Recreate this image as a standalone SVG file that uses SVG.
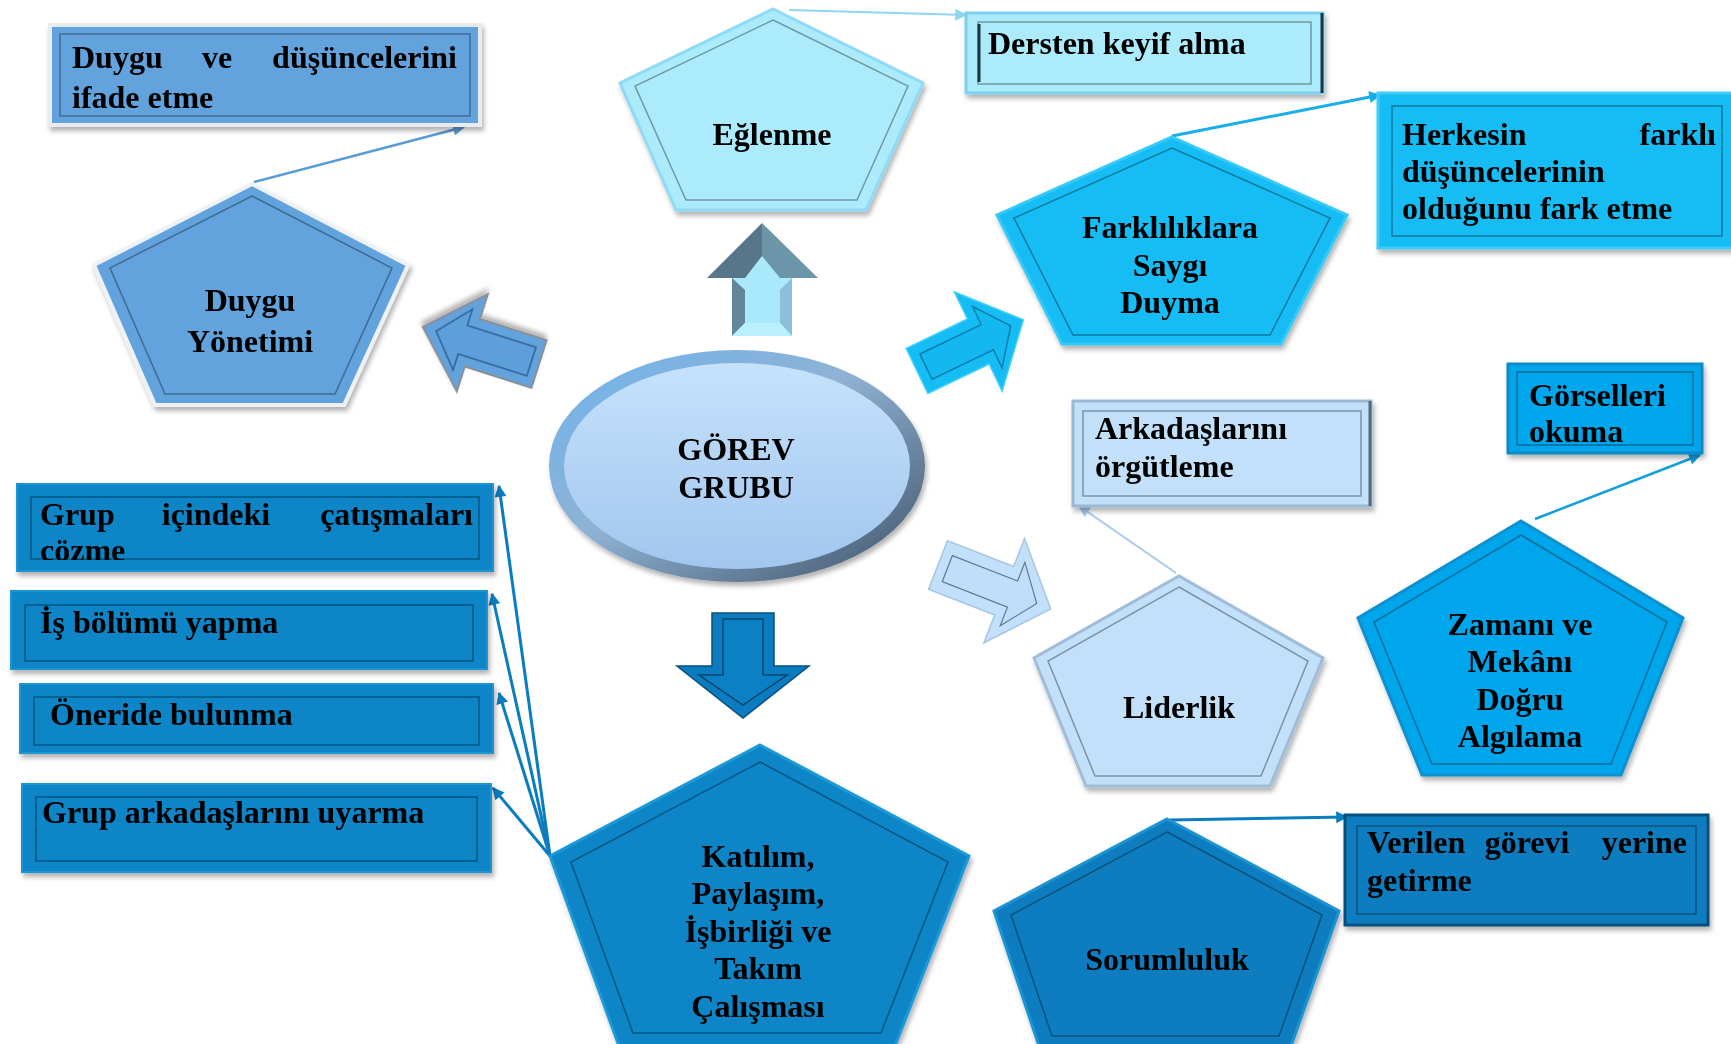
<svg xmlns="http://www.w3.org/2000/svg" width="1731" height="1044" viewBox="0 0 1731 1044">
<style>
.t{font-family:"Liberation Serif","Times New Roman",serif;font-weight:bold;font-size:32px;fill:#000}
.c{text-anchor:middle}
.e{text-anchor:end}
.in{fill:none;stroke:#000;stroke-opacity:.35;stroke-width:1.5}
.hl{fill:none;stroke:#fff;stroke-opacity:.35;stroke-width:1.5}
.cn{fill:none}
</style>
<defs>
<filter id="sh" x="-10%" y="-10%" width="125%" height="130%"><feDropShadow dx="2" dy="4" stdDeviation="2.5" flood-color="#000" flood-opacity="0.3"/></filter>
<linearGradient id="rim" x1="0" y1="0" x2="1" y2="1"><stop offset="0" stop-color="#6db4ee"/><stop offset="0.45" stop-color="#8fb2d4"/><stop offset="1" stop-color="#3f5166"/></linearGradient>
<linearGradient id="ell" x1="0" y1="0" x2="0" y2="1"><stop offset="0" stop-color="#c6e2fb"/><stop offset="1" stop-color="#a2c6ef"/></linearGradient>
<clipPath id="clipG"><rect x="17" y="484" width="476" height="76"/></clipPath>
<marker id="mDuygu" viewBox="0 0 10 10" refX="9" refY="5" markerWidth="16" markerHeight="12" markerUnits="userSpaceOnUse" orient="auto"><path d="M0,0 L10,5 L0,10 Z" fill="#5b9bd5"/></marker>
<marker id="mEg" viewBox="0 0 10 10" refX="9" refY="5" markerWidth="16" markerHeight="12" markerUnits="userSpaceOnUse" orient="auto"><path d="M0,0 L10,5 L0,10 Z" fill="#8fd6f3"/></marker>
<marker id="mFark" viewBox="0 0 10 10" refX="9" refY="5" markerWidth="16" markerHeight="12" markerUnits="userSpaceOnUse" orient="auto"><path d="M0,0 L10,5 L0,10 Z" fill="#18aeeb"/></marker>
<marker id="mLid" viewBox="0 0 10 10" refX="9" refY="5" markerWidth="16" markerHeight="12" markerUnits="userSpaceOnUse" orient="auto"><path d="M0,0 L10,5 L0,10 Z" fill="#a6cbee"/></marker>
<marker id="mZam" viewBox="0 0 10 10" refX="9" refY="5" markerWidth="16" markerHeight="12" markerUnits="userSpaceOnUse" orient="auto"><path d="M0,0 L10,5 L0,10 Z" fill="#139ede"/></marker>
<marker id="mDark" viewBox="0 0 10 10" refX="9" refY="5" markerWidth="16" markerHeight="12" markerUnits="userSpaceOnUse" orient="auto"><path d="M0,0 L10,5 L0,10 Z" fill="#0a7cc0"/></marker>
</defs>
<rect width="1731" height="1044" fill="#fff"/>

<!-- connectors -->
<g id="connectors">
<path class="cn" d="M254,182 L464,127" stroke="#5b9bd5" stroke-width="2.5" marker-end="url(#mDuygu)"/>
<path class="cn" d="M789,10 L966,15" stroke="#8fd6f3" stroke-width="2" marker-end="url(#mEg)"/>
<path class="cn" d="M1172,136 L1380,95" stroke="#18aeeb" stroke-width="3" marker-end="url(#mFark)"/>
<path class="cn" d="M1176,573 L1079,506" stroke="#a6cbee" stroke-width="2" marker-end="url(#mLid)"/>
<path class="cn" d="M1535,519 L1700,455" stroke="#139ede" stroke-width="2.5" marker-end="url(#mZam)"/>
<path class="cn" d="M1170,820 L1347,817" stroke="#0a7cc0" stroke-width="3" marker-end="url(#mDark)"/>
<path class="cn" d="M550,856 L499,486" stroke="#0a7cc0" stroke-width="3" marker-end="url(#mDark)"/>
<path class="cn" d="M550,856 L492,594" stroke="#0a7cc0" stroke-width="3" marker-end="url(#mDark)"/>
<path class="cn" d="M550,856 L499,693" stroke="#0a7cc0" stroke-width="3" marker-end="url(#mDark)"/>
<path class="cn" d="M550,856 L493,788" stroke="#0a7cc0" stroke-width="3" marker-end="url(#mDark)"/>
</g>

<!-- block arrows -->
<g id="arrow-up">
<polygon points="762,223 707,278 762,278" fill="#587689"/>
<polygon points="762,223 818,278 762,278" fill="#6b96aa"/>
<rect x="732" y="278" width="60" height="58" fill="#a9e9fb"/>
<polygon points="732,278 745,290 745,323 732,336" fill="#62869a"/>
<polygon points="792,278 780,290 780,323 792,336" fill="#8bc0d8"/>
<polygon points="732,336 745,323 780,323 792,336" fill="#b8f1fd"/>
<polygon points="745,278 762,256 780,278 780,290 745,290" fill="#a9e9fb"/>
</g>
<g id="arrow-left" transform="translate(539,364) rotate(197.7)" filter="url(#sh)">
<path d="M0,-25 L70,-25 L70,-51 L122,0 L70,51 L70,25 L0,25 Z" fill="#62a3dd" stroke="#8a8f96" stroke-width="2"/>
<path d="M8,-15 L80,-15 L80,-32 L108,0 L80,32 L80,15 L8,15 Z" fill="#5d9fdb" stroke="#2f5f8e" stroke-width="1.5"/>
</g>
<g id="arrow-right" transform="translate(917,371) rotate(-25.7)">
<path d="M0,-25 L68,-25 L68,-55 L118,0 L68,55 L68,25 L0,25 Z" fill="#16bdf5" stroke="#3fd0fb" stroke-width="1.5"/>
<path d="M10,-14 L78,-14 L78,-34 L104,0 L78,34 L78,14 L10,14 Z" fill="#14b8f0" stroke="#0a7fad" stroke-width="1.5"/>
</g>
<g id="arrow-lider" transform="translate(938,565) rotate(21.3)">
<path d="M0,-26 L71,-26 L71,-56 L121,0 L71,56 L71,26 L0,26 Z" fill="#c3e0fa" stroke="#a7c6e3" stroke-width="1.5"/>
<path d="M10,-14 L80,-14 L80,-34 L106,0 L80,34 L80,14 L10,14 Z" fill="#c0defa" stroke="#5f7b96" stroke-width="1.2"/>
</g>
<g id="arrow-down" transform="translate(743,613) rotate(90)">
<path d="M0,-31 L53,-31 L53,-66 L105,0 L53,66 L53,31 L0,31 Z" fill="#0a7cbf" stroke="#07507c" stroke-width="1.5"/>
<path d="M6,-20 L62,-20 L62,-44 L92,0 L62,44 L62,20 L6,20 Z" fill="#0b80c4" stroke="#05456b" stroke-width="1.5"/>
</g>

<!-- central ellipse -->
<g id="gorev-grubu" filter="url(#sh)">
<ellipse cx="737" cy="466" rx="188" ry="116" fill="url(#rim)"/>
<ellipse cx="737" cy="466" rx="173" ry="103" fill="url(#ell)"/>
<text class="t c" x="736" y="460">GÖREV</text>
<text class="t c" x="736" y="498">GRUBU</text>
</g>

<!-- Duygu Yönetimi -->
<g id="duygu-yonetimi" filter="url(#sh)">
<polygon points="252,184 408,265 344,405 155,405 94,265" fill="#62a3dd" stroke="#eef2f6" stroke-width="4"/>
<polygon class="in" points="252,196 392,268 335,394 165,394 110,268"/>
<text class="t c" x="250" y="311">Duygu</text>
<text class="t c" x="250" y="352">Yönetimi</text>
</g>
<g id="duygu-box" filter="url(#sh)">
<rect x="50" y="25" width="430" height="100" fill="#62a3dd" stroke="#e9ecef" stroke-width="4"/>
<rect class="in" x="60" y="34" width="410" height="82"/>
<text class="t" x="72" y="68">Duygu</text>
<text class="t c" x="217" y="68">ve</text>
<text class="t e" x="457" y="68">düşüncelerini</text>
<text class="t" x="72" y="108">ifade etme</text>
</g>

<!-- Eğlenme -->
<g id="eglenme" filter="url(#sh)">
<polygon points="773,9 923,83 866,210 676,210 620,83" fill="#abebfc" stroke="#8fdaf5" stroke-width="3"/>
<polygon class="in" points="773,20 908,86 857,200 686,200 635,86"/>
<text class="t c" x="772" y="145">Eğlenme</text>
</g>
<g id="dersten-box" filter="url(#sh)">
<rect x="966" y="13" width="357" height="80" fill="#abebfc" stroke="#7fcfee" stroke-width="3"/>
<rect class="in" x="978" y="22" width="333" height="62"/>
<line x1="1322" y1="13" x2="1322" y2="93" stroke="#1d3440" stroke-width="3"/>
<line x1="979" y1="24" x2="979" y2="82" stroke="#1d3440" stroke-width="3"/>
<text class="t" x="988" y="54">Dersten keyif alma</text>
</g>

<!-- Farklılıklara Saygı Duyma -->
<g id="farkliliklara" filter="url(#sh)">
<polygon points="1172,137 1347,215 1281,344 1062,344 997,215" fill="#16bdf5" stroke="#35c9f8" stroke-width="3"/>
<polygon class="in" points="1172,148 1330,218 1270,335 1073,335 1014,218"/>
<text class="t c" x="1170" y="238">Farklılıklara</text>
<text class="t c" x="1170" y="276">Saygı</text>
<text class="t c" x="1170" y="313">Duyma</text>
</g>
<g id="herkesin-box" filter="url(#sh)">
<rect x="1378" y="93" width="370" height="155" fill="#16bdf5" stroke="#3ccbf8" stroke-width="3"/>
<rect class="in" x="1392" y="106" width="330" height="130"/>
<text class="t" x="1402" y="145">Herkesin</text>
<text class="t e" x="1716" y="145">farklı</text>
<text class="t" x="1402" y="182">düşüncelerinin</text>
<text class="t" x="1402" y="219">olduğunu fark etme</text>
</g>

<!-- Arkadaşlarını örgütleme / Liderlik -->
<g id="arkadaslarini-box" filter="url(#sh)">
<rect x="1073" y="401" width="298" height="105" fill="#c2e0fa" stroke="#9cb8d3" stroke-width="3"/>
<rect class="in" x="1083" y="411" width="278" height="85"/>
<line x1="1370" y1="401" x2="1370" y2="506" stroke="#55677a" stroke-width="3"/>
<text class="t" x="1095" y="439">Arkadaşlarını</text>
<text class="t" x="1095" y="477">örgütleme</text>
</g>
<g id="liderlik" filter="url(#sh)">
<polygon points="1179,576 1323,658 1270,786 1086,786 1034,658" fill="#c2e0fa" stroke="#9fbcd8" stroke-width="3"/>
<polygon class="in" points="1179,587 1308,661 1261,776 1095,776 1048,661"/>
<text class="t c" x="1179" y="718">Liderlik</text>
</g>

<!-- Görselleri okuma / Zamanı ve Mekânı -->
<g id="gorselleri-box" filter="url(#sh)">
<rect x="1508" y="364" width="194" height="89" fill="#06a6ec" stroke="#0a8bc6" stroke-width="3"/>
<rect class="in" x="1517" y="372" width="176" height="73"/>
<text class="t" x="1529" y="406">Görselleri</text>
<text class="t" x="1529" y="442">okuma</text>
</g>
<g id="zamani" filter="url(#sh)">
<polygon points="1521,521 1683,618 1621,775 1422,775 1358,618" fill="#06a6ec" stroke="#0990d0" stroke-width="3"/>
<polygon class="in" points="1521,535 1667,622 1611,764 1432,764 1374,622"/>
<text class="t c" x="1520" y="635">Zamanı ve</text>
<text class="t c" x="1520" y="672">Mekânı</text>
<text class="t c" x="1520" y="710">Doğru</text>
<text class="t c" x="1520" y="747">Algılama</text>
</g>

<!-- Left column boxes -->
<g id="catisma-box" filter="url(#sh)">
<rect x="17" y="484" width="476" height="87" fill="#0985c7" stroke="#1a95d4" stroke-width="2"/>
<rect class="in" x="31" y="497" width="448" height="62"/>
<g clip-path="url(#clipG)">
<text class="t" x="40" y="525">Grup</text>
<text class="t c" x="216" y="525">içindeki</text>
<text class="t e" x="473" y="525">çatışmaları</text>
<text class="t" x="40" y="561">çözme</text>
</g>
</g>
<g id="isbolumu-box" filter="url(#sh)">
<rect x="11" y="591" width="476" height="78" fill="#0985c7" stroke="#1a95d4" stroke-width="2"/>
<rect class="in" x="25" y="605" width="448" height="56"/>
<text class="t" x="40" y="633">İş bölümü yapma</text>
</g>
<g id="oneride-box" filter="url(#sh)">
<rect x="20" y="684" width="473" height="69" fill="#0985c7" stroke="#1a95d4" stroke-width="2"/>
<rect class="in" x="34" y="697" width="445" height="48"/>
<text class="t" x="50" y="725">Öneride bulunma</text>
</g>
<g id="uyarma-box" filter="url(#sh)">
<rect x="22" y="784" width="469" height="88" fill="#0985c7" stroke="#1a95d4" stroke-width="2"/>
<rect class="in" x="36" y="797" width="441" height="64"/>
<text class="t" x="42" y="823">Grup arkadaşlarını uyarma</text>
</g>

<!-- Katılım -->
<g id="katilim" filter="url(#sh)">
<polygon points="760,745 969,856 895,1046 619,1046 550,856" fill="#0985c7" stroke="#1d9ad8" stroke-width="3"/>
<polygon class="in" points="760,762 948,862 881,1033 633,1033 571,862"/>
<text class="t c" x="758" y="867">Katılım,</text>
<text class="t c" x="758" y="904">Paylaşım,</text>
<text class="t c" x="758" y="942">İşbirliği ve</text>
<text class="t c" x="758" y="979">Takım</text>
<text class="t c" x="758" y="1017">Çalışması</text>
</g>

<!-- Sorumluluk -->
<g id="sorumluluk" filter="url(#sh)">
<polygon points="1167,819 1339,911 1291,1046 1039,1046 994,911" fill="#0a7dbf" stroke="#1d93d2" stroke-width="3"/>
<polygon class="in" points="1167,832 1322,915 1279,1036 1052,1036 1011,915"/>
<text class="t c" x="1167" y="970">Sorumluluk</text>
</g>
<g id="verilen-box" filter="url(#sh)">
<rect x="1345" y="815" width="363" height="110" fill="#0a7dbf" stroke="#06507c" stroke-width="3"/>
<rect class="in" x="1357" y="826" width="339" height="88"/>
<text class="t" x="1367" y="853">Verilen</text>
<text class="t c" x="1527" y="853">görevi</text>
<text class="t e" x="1687" y="853">yerine</text>
<text class="t" x="1367" y="891">getirme</text>
</g>
</svg>
